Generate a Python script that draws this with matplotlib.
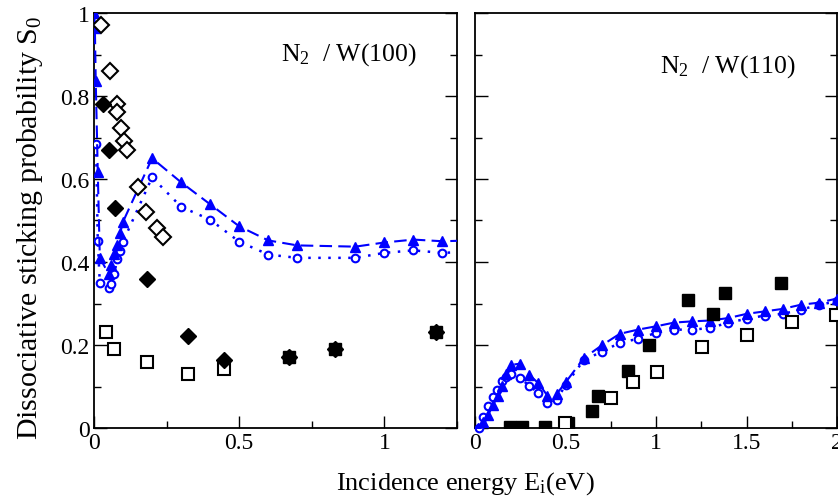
import matplotlib
matplotlib.use("Agg")
import matplotlib.pyplot as plt
from matplotlib.ticker import MultipleLocator

plt.rcParams['font.family'] = ['Liberation Serif', 'DejaVu Serif']
plt.rcParams['mathtext.fontset'] = 'custom'
plt.rcParams['mathtext.rm'] = 'Liberation Serif'
plt.rcParams['mathtext.it'] = 'Liberation Serif:italic'

# ---------------- N2 / W(100) ----------------
w100_tri_x = [0.001, 0.003, 0.006, 0.013, 0.02, 0.05, 0.06, 0.07, 0.08, 0.09, 0.1,
              0.2, 0.3, 0.4, 0.5, 0.6, 0.7, 0.9, 1.0, 1.1, 1.2, 1.3]
w100_tri_y = [1.0, 0.965, 0.835, 0.618, 0.41, 0.372, 0.392, 0.42, 0.442, 0.469, 0.497,
              0.65, 0.592, 0.539, 0.486, 0.452, 0.44, 0.437, 0.447, 0.454, 0.45, 0.452]
w100_cir_x = [0.007, 0.013, 0.02, 0.05, 0.06, 0.07, 0.08, 0.09, 0.1,
              0.2, 0.3, 0.4, 0.5, 0.6, 0.7, 0.9, 1.0, 1.1, 1.2, 1.3]
w100_cir_y = [0.684, 0.45, 0.35, 0.337, 0.348, 0.372, 0.407, 0.426, 0.449,
              0.604, 0.533, 0.502, 0.449, 0.418, 0.41, 0.41, 0.422, 0.428, 0.422, 0.425]
w100_dia_open_x = [0.024, 0.055, 0.078, 0.078, 0.092, 0.105, 0.114, 0.153, 0.178, 0.216, 0.239]
w100_dia_open_y = [0.972, 0.861, 0.78, 0.761, 0.722, 0.692, 0.67, 0.58, 0.521, 0.482, 0.461]
w100_dia_fill_x = [0.032, 0.053, 0.072, 0.182, 0.325, 0.449, 0.67, 0.831, 1.176]
w100_dia_fill_y = [0.78, 0.67, 0.531, 0.36, 0.221, 0.163, 0.171, 0.191, 0.231]
w100_sq_open_x = [0.041, 0.07, 0.182, 0.325, 0.449]
w100_sq_open_y = [0.231, 0.191, 0.16, 0.13, 0.141]
w100_sq_fill_x = [0.67, 0.831, 1.176]
w100_sq_fill_y = [0.171, 0.191, 0.231]

# ---------------- N2 / W(110) ----------------
w110_tri_x = [0.018, 0.046, 0.073, 0.1, 0.125, 0.147, 0.17, 0.197, 0.249, 0.3, 0.35, 0.4,
              0.451, 0.501, 0.6, 0.7, 0.8, 0.9, 1.0, 1.1, 1.2, 1.3, 1.4, 1.5, 1.6, 1.7,
              1.8, 1.9, 2.0]
w110_tri_y = [0.0, 0.014, 0.032, 0.055, 0.078, 0.102, 0.13, 0.152, 0.155, 0.128, 0.108, 0.078,
              0.082, 0.11, 0.168, 0.199, 0.227, 0.237, 0.245, 0.254, 0.257, 0.259, 0.265,
              0.275, 0.281, 0.287, 0.297, 0.302, 0.312]
w110_cir_x = [0.024, 0.046, 0.073, 0.098, 0.123, 0.147, 0.171, 0.199, 0.249, 0.3, 0.35, 0.4,
              0.451, 0.501, 0.6, 0.7, 0.8, 0.9, 1.0, 1.1, 1.2, 1.3, 1.4, 1.5, 1.6, 1.7,
              1.8, 1.9, 2.0]
w110_cir_y = [0.0, 0.027, 0.052, 0.074, 0.092, 0.113, 0.124, 0.13, 0.12, 0.102, 0.084, 0.06,
              0.068, 0.104, 0.163, 0.184, 0.205, 0.215, 0.229, 0.237, 0.237, 0.241, 0.254,
              0.263, 0.271, 0.275, 0.285, 0.297, 0.305]
w110_sq_fill_x = [0.193, 0.261, 0.389, 0.516, 0.645, 0.681, 0.847, 0.963, 1.175, 1.313, 1.381, 1.69]
w110_sq_fill_y = [0.002, 0.002, 0.002, 0.011, 0.04, 0.076, 0.137, 0.2, 0.308, 0.275, 0.325, 0.35]
w110_sq_open_x = [0.497, 0.75, 0.875, 1.004, 1.252, 1.501, 1.75, 1.994]
w110_sq_open_y = [0.011, 0.072, 0.112, 0.136, 0.195, 0.225, 0.255, 0.273]

labels = ["N$_2$  / W(100)", "N$_2$  / W(110)"]
left_xticks = [0, 0.5, 1]
right_xticks = [0, 0.5, 1, 1.5, 2]
yticks = [0, 0.2, 0.4, 0.6, 0.8, 1]

BLUE = '#0000ff'
W, H = 838, 502
fig = plt.figure(figsize=(W / 100, H / 100), dpi=100)
ax1 = fig.add_axes([94 / W, (H - 429) / H, 363 / W, 415 / H])
ax2 = fig.add_axes([475 / W, (H - 429) / H, 362 / W, 415 / H])

tri_kw = dict(color=BLUE, ls=(0, (6, 3)), lw=1.5, marker='^', ms=7.5, mfc=BLUE, mec=BLUE, clip_on=True)
cir_kw = dict(color=BLUE, ls=(0, (1, 3)), lw=1.8, marker='o', ms=5.5, mfc='white', mec=BLUE, mew=1.5)

# W(100)
ax1.plot(w100_cir_x, w100_cir_y, **cir_kw, zorder=3)
ax1.plot(w100_tri_x, w100_tri_y, **tri_kw, zorder=3)
ax1.plot(w100_sq_open_x, w100_sq_open_y, ls='none', marker='s', ms=9, mfc='white', mec='black', mew=1.5, zorder=4)
ax1.plot(w100_sq_fill_x, w100_sq_fill_y, ls='none', marker='s', ms=9, mfc='black', mec='black', mew=1.0, zorder=4)
ax1.plot(w100_dia_open_x, w100_dia_open_y, ls='none', marker='D', ms=8, mfc='white', mec='black', mew=1.5, zorder=5)
ax1.plot(w100_dia_fill_x, w100_dia_fill_y, ls='none', marker='D', ms=8, mfc='black', mec='black', mew=1.0, zorder=5)
ax1.set_xlim(0, 1.25)

# W(110)
ax2.plot(w110_cir_x, w110_cir_y, **cir_kw, zorder=3, clip_on=False)
ax2.plot(w110_tri_x, w110_tri_y, **tri_kw, zorder=3)
ax2.plot(w110_sq_fill_x, w110_sq_fill_y, ls='none', marker='s', ms=9, mfc='black', mec='black', mew=1.0, zorder=4)
ax2.plot(w110_sq_open_x, w110_sq_open_y, ls='none', marker='s', ms=9, mfc='white', mec='black', mew=1.5, zorder=4)
ax2.set_xlim(0, 2.0)

for ax, xt, lab, tx, ty in [(ax1, left_xticks, labels[0], 281, 55), (ax2, right_xticks, labels[1], 660, 67)]:
    ax.set_ylim(0, 1)
    ax.set_xticks(xt)
    ax.set_xticklabels([f"{v:g}" for v in xt])
    ax.xaxis.set_minor_locator(MultipleLocator(0.25))
    ax.set_yticks(yticks)
    ax.yaxis.set_minor_locator(MultipleLocator(0.1))
    ax.tick_params(which='both', direction='in', right=True, top=False, width=1.0, labelsize=17, pad=3)
    ax.tick_params(which='major', length=9)
    ax.tick_params(which='minor', length=5)
    for s in ax.spines.values():
        s.set_linewidth(1.3)
    fig.text(tx / W, 1 - ty / H, lab, fontsize=18.5, va='center', ha='left')

ax1.set_yticklabels([f"{v:g}" for v in yticks])
ax2.set_yticklabels([])

fig.text(465 / W, 1 - 484 / H, "Incidence energy E$_\\mathrm{i}$(eV)", fontsize=19, ha='center', va='center')
fig.text(30 / W, 1 - 228 / H, "Dissociative sticking probability S$_0$", fontsize=21.5,
         ha='center', va='center', rotation=90)

fig.savefig("out.png", dpi=100)
